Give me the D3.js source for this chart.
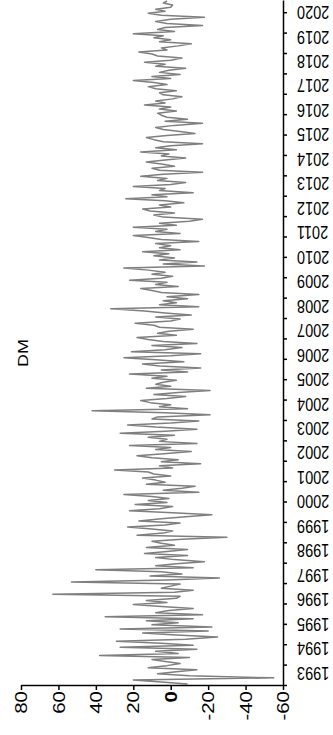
<!DOCTYPE html>
<html>
<head>
<meta charset="utf-8">
<script src="https://cdn.jsdelivr.net/npm/d3@7"></script>
<style>
  html, body { margin: 0; padding: 0; background: #fff; }
  svg { display: block; }
  text { font-family: "Liberation Sans", Arial, sans-serif; fill: #000; }
</style>
</head>
<body>
<svg id="chart" width="333" height="735"></svg>
<script>
// monthly DM values, Jan 1993 .. Dec 2020
const dmValues = [
  -9, 5, 20, -55, -10, 7, -3, -14, 12, 2, -5, 3,
  10, -10, 38, -4, 8, -14, 27, -12, 5, 29, -8, -25,
  -3, 15, -20, 27, -22, 10, -4, 13, -12, 35, -17, 8,
  1, -12, 5, 20, 2, 13, -3, -5, 63, -2, -12, 5,
  0, -5, 53, 2, -26, 11, -6, 5, 40, -12, 8, -3,
  -18, -2, 8, -9, 14, 2, -9, 13, -2, 5, 10, -6,
  -30, 18, 4, -1, 10, 23, 3, -5, 17, 5, -8, -22,
  -1, 22, 6, -1, 19, 2, 12, 1, 10, 25, -15, 4,
  -6, -13, 13, 3, 8, 15, 0, 9, 12, 30, -1, 6,
  -16, 5, -4, 10, 18, 2, -11, 8, 0, 22, -14, 6,
  2, 12, -2, 27, 3, -14, 8, 23, 0, -15, 10, 7,
  -21, 3, 42, -9, 6, 0, 11, 16, 2, -8, 9, -4,
  -21, 13, 0, 8, 4, -3, 10, 2, 22, -9, 5, -16,
  6, 15, -7, 8, 25, 0, -16, 21, 3, -6, 10, -14,
  4, 12, 18, -3, 7, 1, -12, 6, 9, 19, 0, -5,
  8, -11, 3, 14, 32, -15, 6, -3, 4, -9, 2, -15,
  5, 10, 16, -4, 8, 2, 22, 5, -1, 10, 3, 12,
  25, -18, 4, -14, 6, -2, 9, 1, 15, -5, 6, 0,
  8, -15, 5, 12, 20, -5, 8, 2, 20, -3, 6, -10,
  -17, 4, 9, -2, 11, 15, 0, 6, -7, 3, 24, 2,
  10, -12, 6, 3, 20, 0, -8, 7, 2, 16, 4, -17,
  6, 10, -2, 5, 13, 3, -8, 5, 1, 16, -3, 8,
  0, -17, 4, 9, 13, 2, -13, -5, 4, 8, -2, -17,
  3, -9, 2, 5, 7, -3, 6, 0, 14, 3, 8, -1,
  -6, 4, 6, -3, 8, 12, 2, 9, 20, 0, 10, -5,
  6, 1, -8, 8, 3, 14, 0, -6, 7, 10, 17, 2,
  5, -4, -11, 6, 0, 9, 4, 20, -2, 7, 3, -17,
  2, 8, 0, -18, 5, 12, 3, 8, 0, -1, 4, 2
];
const years = d3.range(1993, 2021);
const valueTicks = [80, 60, 40, 20, 0, -20, -40, -60];
const title = "DM";

const svg = d3.select("#chart");
const STRETCH = 1.28; // picture is stretched along its height
const axisY = 685, axisX = 283;

// value runs across the page (high values on the left), time runs upward
const xScale = d3.scaleLinear().domain([80, -60]).range([21, axisX]);
const yScale = d3.scaleLinear().domain([0, years.length * 12]).range([axisY, 0]);

// data line
const line = d3.line()
    .x(d => xScale(d))
    .y((d, i) => yScale(i + 0.5));
svg.append("path")
    .attr("d", line(dmValues))
    .attr("fill", "none")
    .attr("stroke", "#7f7f7f")
    .attr("stroke-width", 1.5)
    .attr("stroke-linejoin", "round");

// value axis (bottom)
const xAxis = d3.axisBottom(xScale).tickValues(valueTicks).tickSize(5).tickSizeOuter(0).tickFormat(d => String(d));
const gx = svg.append("g")
    .attr("transform", "translate(0," + axisY + ")")
    .call(xAxis);
gx.select(".domain").attr("stroke-width", 1.5);
gx.selectAll(".tick line").attr("stroke-width", 1.5);
gx.selectAll(".tick text")
    .attr("y", null).attr("dy", null)
    .attr("text-anchor", "end")
    .attr("dominant-baseline", "central")
    .attr("font-size", 16)
    .attr("font-weight", d => d === 0 ? "bold" : "normal")
    .attr("transform", "translate(0,6) scale(1," + STRETCH + ") rotate(-90)");

// time axis (right): ticks every 10 months, labels every year
const tickMonths = d3.range(0, years.length * 12, 10);
const yAxis = d3.axisRight(yScale).tickValues(tickMonths).tickSize(4).tickSizeOuter(0).tickFormat("");
const gy = svg.append("g")
    .attr("transform", "translate(" + axisX + ",0)")
    .call(yAxis);
gy.select(".domain").attr("stroke-width", 1.5);
gy.selectAll(".tick line").attr("stroke-width", 1.5);

svg.append("g").selectAll("text")
    .data(years)
    .enter()
    .append("text")
    .attr("text-anchor", "end")
    .attr("dominant-baseline", "central")
    .attr("font-size", 14.5)
    .attr("transform", (d, i) => "translate(" + (axisX + 14) + "," + yScale(i * 12 + 6) + ") scale(1," + STRETCH + ") rotate(180)")
    .text(d => d);

// title
svg.append("text")
    .attr("text-anchor", "middle")
    .attr("dominant-baseline", "central")
    .attr("font-size", 14)
    .attr("transform", "translate(23,353) scale(1," + STRETCH + ") rotate(-90)")
    .text(title);
</script>
</body>
</html>
